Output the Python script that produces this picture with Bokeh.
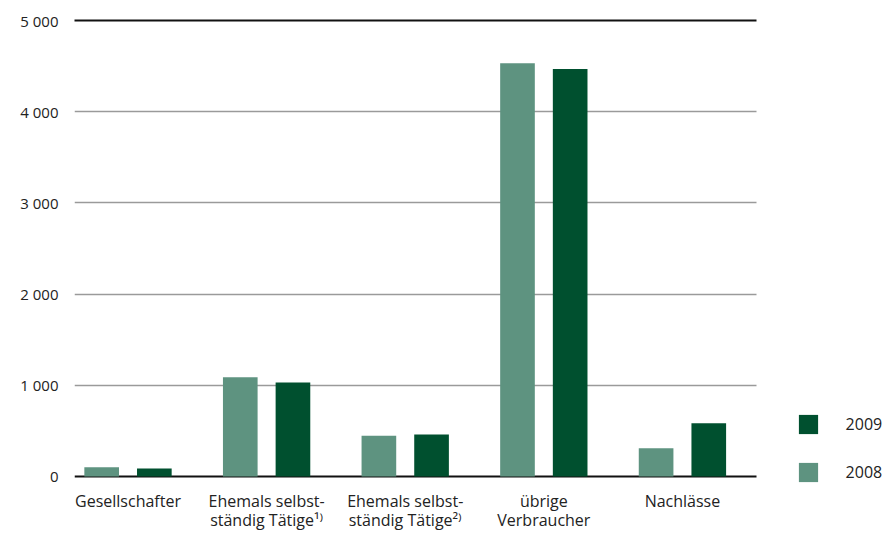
from bokeh.plotting import figure
from bokeh.models import (FixedTicker, LinearAxis, Legend, LegendItem, Range1d,
                          ColumnDataSource, Grid)
from bokeh.embed import file_html
from bokeh.resources import INLINE

# category labels, split in two lines
categories_line1 = ["Gesellschafter", "Ehemals selbst-", "Ehemals selbst-", "übrige", "Nachlässe"]
categories_line2 = ["", "ständig Tätige\u00b9\u207e", "ständig Tätige\u00b2\u207e", "Verbraucher", ""]
values_2008 = [102, 1088, 446, 4531, 310]
values_2009 = [88, 1030, 460, 4469, 584]
y_ticks = [0, 1000, 2000, 3000, 4000, 5000]
y_tick_labels = ["0", "1 000", "2 000", "3 000", "4 000", "5 000"]

LIGHT = "#5e9380"
DARK = "#00502f"
FONT = "Open Sans"

X_START, X_AXIS_END, X_END = -0.386, 4.535, 5.465
Y_START, Y_END = -110, 5000   # a little room under the baseline for the legend

idx = list(range(len(categories_line1)))
src = ColumnDataSource(dict(
    x08=[i - 0.19 for i in idx], x09=[i + 0.19 for i in idx],
    v08=values_2008, v09=values_2009))

p = figure(width=885, height=534, output_backend="svg", toolbar_location=None,
           x_range=Range1d(X_START, X_END), y_range=Range1d(Y_START, Y_END),
           min_border_left=74, min_border_right=0, min_border_top=20,
           min_border_bottom=48, x_axis_location=None, y_axis_location=None)
p.outline_line_color = None
p.background_fill_color = "white"

r08 = p.vbar(x="x08", top="v08", bottom=0, width=0.25, source=src, fill_color=LIGHT, line_color=None)
r09 = p.vbar(x="x09", top="v09", bottom=0, width=0.25, source=src, fill_color=DARK, line_color=None)


def cat_axis(labels, standoff):
    ax = LinearAxis(ticker=FixedTicker(ticks=idx),
                    major_label_overrides={i: c for i, c in zip(idx, labels)})
    ax.axis_line_color = None
    ax.major_tick_line_color = None
    ax.minor_tick_line_color = None
    ax.major_tick_out = 0
    ax.major_tick_in = 0
    ax.major_label_standoff = standoff
    ax.major_label_text_font = FONT
    ax.major_label_text_font_size = "16px"
    ax.major_label_text_color = "#222222"
    return ax


p.add_layout(cat_axis(categories_line1, 3), "below")
p.add_layout(cat_axis(categories_line2, -6), "below")

top = LinearAxis(ticker=FixedTicker(ticks=[]), bounds=(X_START, X_AXIS_END))
top.axis_line_color = "#111111"
top.axis_line_width = 2
top.major_tick_line_color = None
top.minor_tick_line_color = None
top.major_tick_out = 0
top.major_tick_in = 0
p.add_layout(top, "above")

yaxis = LinearAxis(ticker=FixedTicker(ticks=y_ticks),
                   major_label_overrides={t: l for t, l in zip(y_ticks, y_tick_labels)})
yaxis.axis_line_color = None
yaxis.major_tick_line_color = None
yaxis.minor_tick_line_color = None
yaxis.major_tick_out = 0
yaxis.major_tick_in = 0
yaxis.major_label_standoff = 16
yaxis.major_label_text_font = FONT
yaxis.major_label_text_font_size = "15px"
yaxis.major_label_text_color = "#222222"
p.add_layout(yaxis, "left")

p.xgrid.visible = False
p.ygrid.ticker = FixedTicker(ticks=[1000, 2000, 3000, 4000])
p.ygrid.cross_bounds = (X_START, X_AXIS_END)
p.ygrid.grid_line_color = "#9a9a9a"
p.ygrid.grid_line_width = 1.3

baseline = Grid(dimension=1, ticker=FixedTicker(ticks=[0]), cross_bounds=(X_START, X_AXIS_END),
                grid_line_color="#111111", grid_line_width=2)
p.add_layout(baseline)

legend = Legend(items=[LegendItem(label="2009", renderers=[r09]),
                       LegendItem(label="2008", renderers=[r08])],
                location=(721.6, 2.4), orientation="vertical")
legend.glyph_width = 24
legend.glyph_height = 24
legend.label_height = 24
legend.label_standoff = 26
legend.spacing = 24
legend.padding = 0
legend.margin = 0
legend.border_line_color = None
legend.background_fill_alpha = 0
legend.label_text_font = FONT
legend.label_text_font_size = "16px"
legend.label_text_color = "#222222"
p.add_layout(legend, "center")

open("out.html", "w").write(file_html(p, INLINE))
